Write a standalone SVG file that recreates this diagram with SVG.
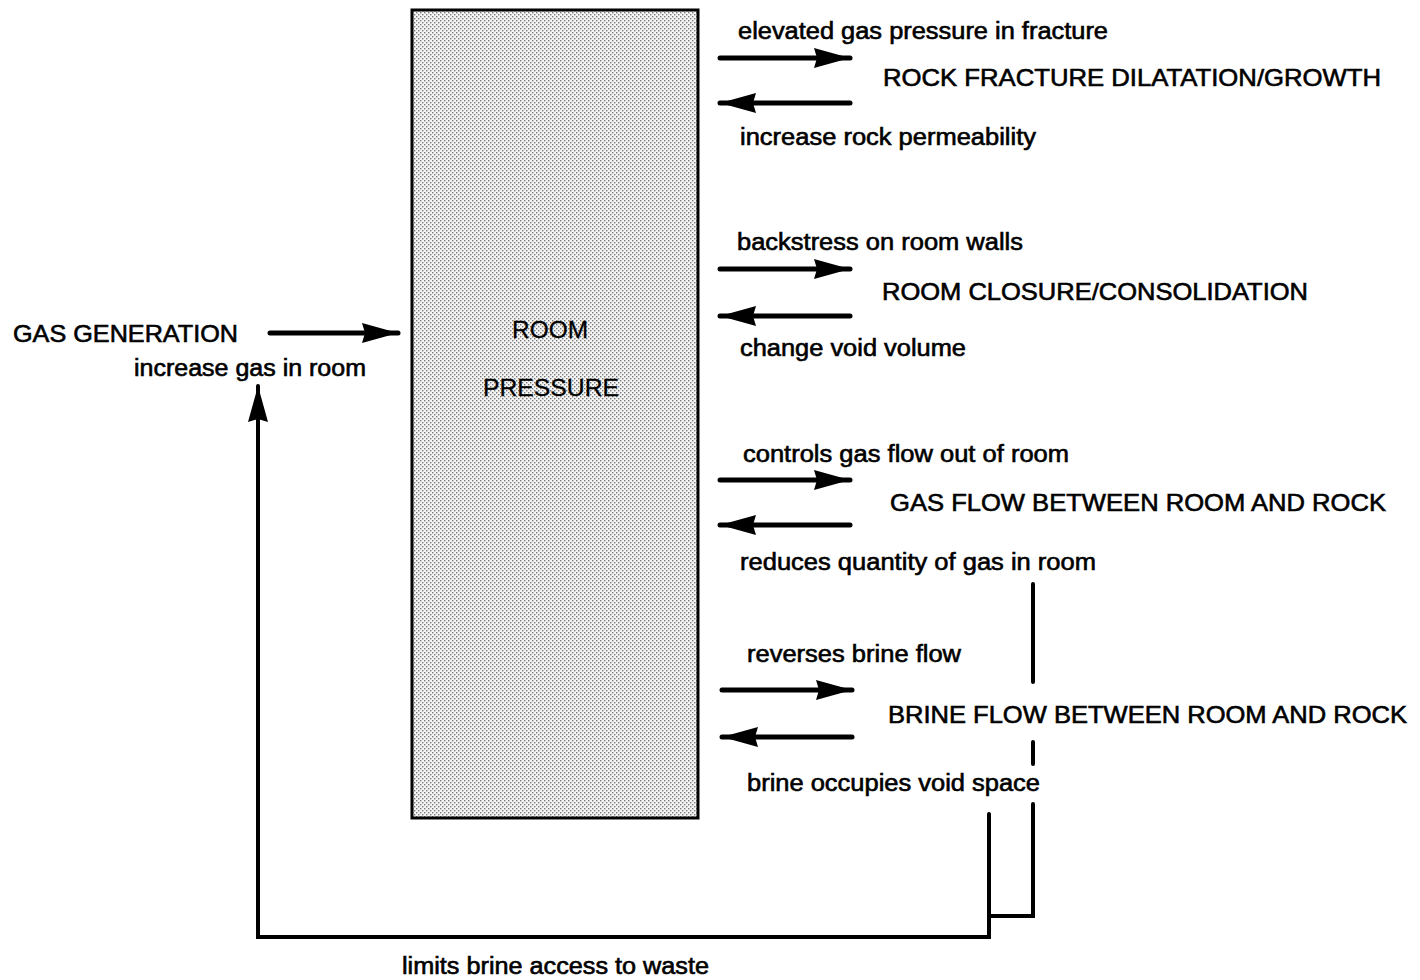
<svg xmlns="http://www.w3.org/2000/svg" width="1420" height="980" viewBox="0 0 1420 980">
<style>
text{font-family:"Liberation Sans",Arial,Helvetica,sans-serif;font-size:23px;fill:#000;stroke:#000;stroke-width:0.6}
.cap{font-size:24px}
.ln{stroke:#000;stroke-width:5;fill:none;stroke-linecap:round}
</style>
<defs>
<pattern id="dots" width="4" height="4" patternUnits="userSpaceOnUse">
<rect width="4" height="4" fill="#f6f6f6"/>
<rect x="0" y="0" width="1.4" height="1.4" fill="#777"/>
<rect x="2" y="2" width="1.4" height="1.4" fill="#777"/>
</pattern>
<marker id="ah" markerUnits="userSpaceOnUse" markerWidth="40" markerHeight="22" refX="36" refY="10" orient="auto">
<path d="M0,0 L36,10 L0,20 L3,10 Z" fill="#000"/>
</marker>
</defs>
<rect width="1420" height="980" fill="#fff"/>

<g id="room-pressure">
<rect x="412" y="10" width="286" height="808" fill="url(#dots)" stroke="#000" stroke-width="3"/>
<text x="512" y="338" textLength="76" lengthAdjust="spacingAndGlyphs" class="cap" style="stroke-width:0.3">ROOM</text>
<text x="483" y="396" textLength="136" lengthAdjust="spacingAndGlyphs" class="cap" style="stroke-width:0.3">PRESSURE</text>
</g>

<g id="gas-generation">
<text x="13" y="342" textLength="225" lengthAdjust="spacingAndGlyphs" class="cap">GAS GENERATION</text>
</g>

<g id="rock-fracture">
<text x="883" y="86" textLength="498" lengthAdjust="spacingAndGlyphs" class="cap">ROCK FRACTURE DILATATION/GROWTH</text>
</g>

<g id="room-closure">
<text x="882" y="300" textLength="426" lengthAdjust="spacingAndGlyphs" class="cap">ROOM CLOSURE/CONSOLIDATION</text>
</g>

<g id="gas-flow">
<text x="890" y="511" textLength="496" lengthAdjust="spacingAndGlyphs" class="cap">GAS FLOW BETWEEN ROOM AND ROCK</text>
</g>

<g id="brine-flow">
<text x="888" y="723" textLength="519" lengthAdjust="spacingAndGlyphs" class="cap">BRINE FLOW BETWEEN ROOM AND ROCK</text>
</g>

<g id="connectors">
<line class="ln" x1="720" y1="58" x2="850" y2="58" marker-end="url(#ah)"/>
<line class="ln" x1="850" y1="103" x2="720" y2="103" marker-end="url(#ah)"/>
<line class="ln" x1="720" y1="269" x2="850" y2="269" marker-end="url(#ah)"/>
<line class="ln" x1="850" y1="316" x2="720" y2="316" marker-end="url(#ah)"/>
<line class="ln" x1="720" y1="480" x2="850" y2="480" marker-end="url(#ah)"/>
<line class="ln" x1="850" y1="525" x2="720" y2="525" marker-end="url(#ah)"/>
<line class="ln" x1="722" y1="690" x2="852" y2="690" marker-end="url(#ah)"/>
<line class="ln" x1="852" y1="737" x2="722" y2="737" marker-end="url(#ah)"/>
<line class="ln" x1="270" y1="333" x2="398" y2="333" marker-end="url(#ah)"/>
<path class="ln" d="M989,814 L989,937 L258,937 L258,386" marker-end="url(#ah)" stroke-linejoin="miter" style="stroke-width:4"/>
<path class="ln" d="M989,916 L1033,916 L1033,804" stroke-linejoin="miter" style="stroke-width:4"/>
<line class="ln" x1="1033" y1="584" x2="1033" y2="682" style="stroke-width:4"/>
<line class="ln" x1="1033" y1="742" x2="1033" y2="764" style="stroke-width:4"/>
<text x="738" y="39" textLength="370" lengthAdjust="spacingAndGlyphs">elevated gas pressure in fracture</text>
<text x="740" y="145" textLength="296" lengthAdjust="spacingAndGlyphs">increase rock permeability</text>
<text x="737" y="250" textLength="286" lengthAdjust="spacingAndGlyphs">backstress on room walls</text>
<text x="740" y="356" textLength="226" lengthAdjust="spacingAndGlyphs">change void volume</text>
<text x="134" y="376" textLength="232" lengthAdjust="spacingAndGlyphs">increase gas in room</text>
<text x="743" y="462" textLength="326" lengthAdjust="spacingAndGlyphs">controls gas flow out of room</text>
<text x="740" y="570" textLength="356" lengthAdjust="spacingAndGlyphs">reduces quantity of gas in room</text>
<text x="747" y="662" textLength="214" lengthAdjust="spacingAndGlyphs">reverses brine flow</text>
<text x="747" y="791" textLength="293" lengthAdjust="spacingAndGlyphs">brine occupies void space</text>
<text x="402" y="974" textLength="307" lengthAdjust="spacingAndGlyphs">limits brine access to waste</text>
</g>
</svg>
